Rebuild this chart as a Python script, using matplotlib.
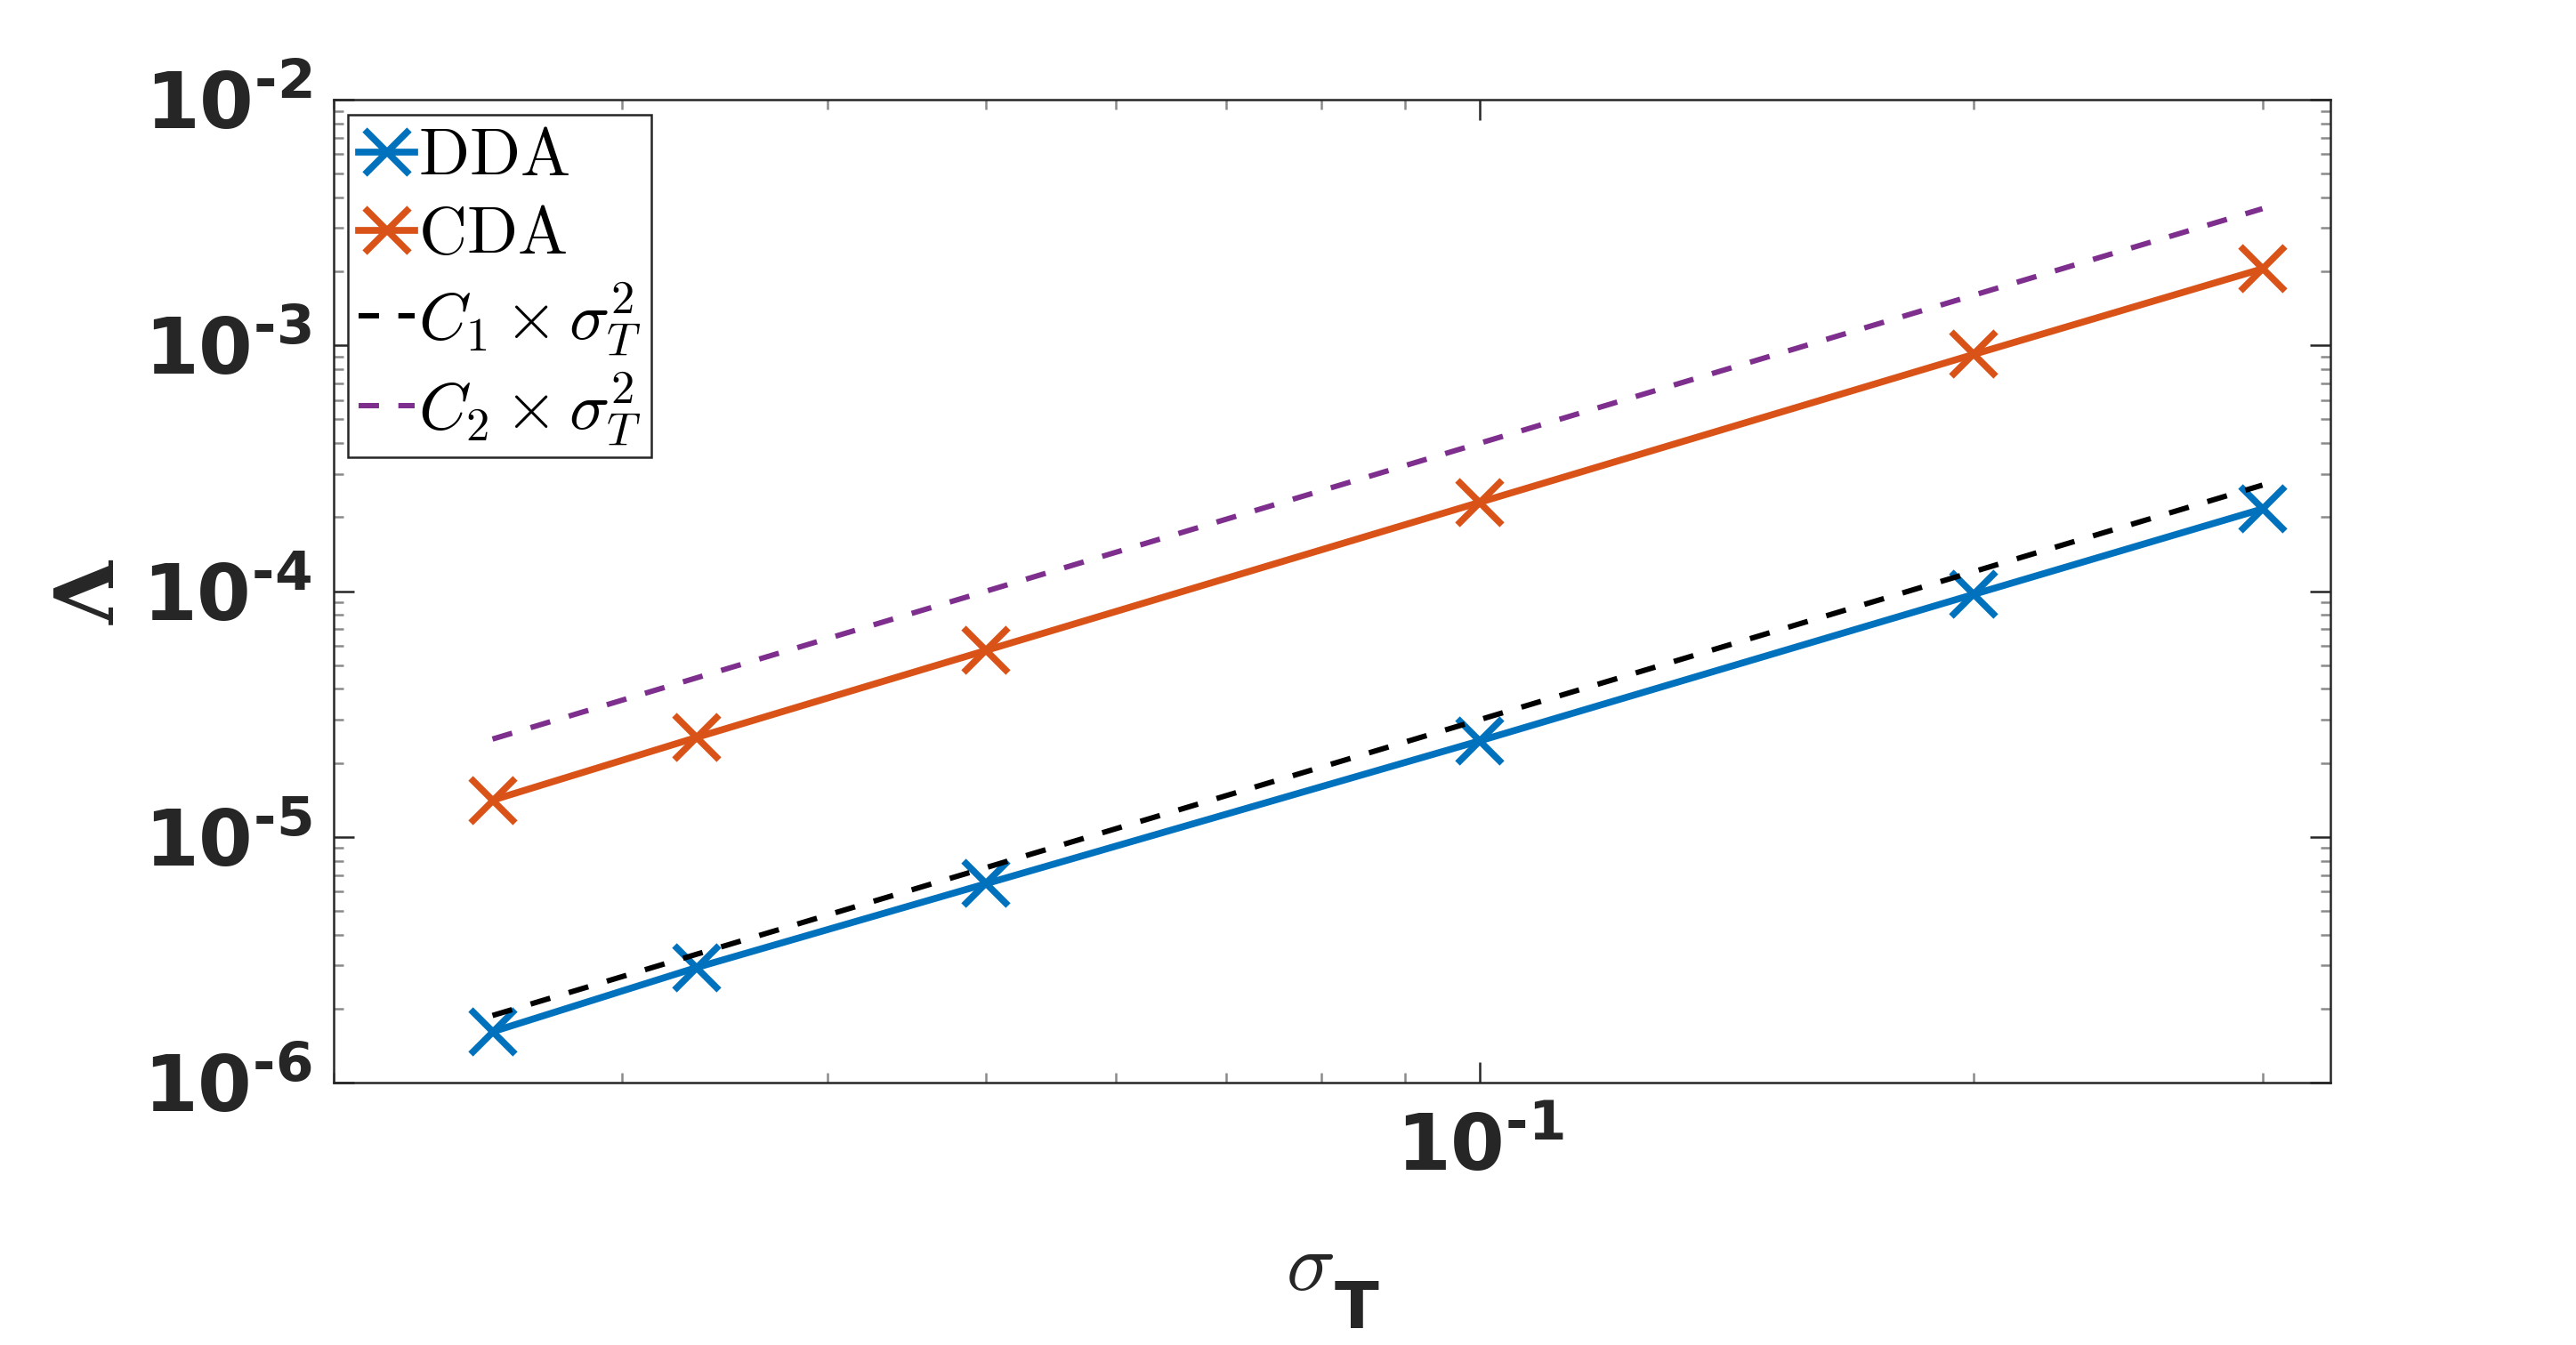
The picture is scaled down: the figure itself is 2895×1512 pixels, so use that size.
import matplotlib
matplotlib.use("Agg")
import matplotlib.pyplot as plt
from matplotlib.ticker import LogLocator, NullFormatter

# sigma_T values (x) and Lambda values (y)
sigma_t = [0.025, 0.0333, 0.05, 0.1, 0.2, 0.3]
dda = [1.61e-6, 2.94e-6, 6.45e-6, 2.46e-5, 9.7e-5, 2.16e-4]
cda = [1.41e-5, 2.54e-5, 5.74e-5, 2.30e-4, 9.19e-4, 2.05e-3]
c1_line = [1.875e-6, 3.33e-6, 7.5e-6, 3.0e-5, 1.2e-4, 2.7e-4]
c2_line = [2.5e-5, 4.44e-5, 1.0e-4, 4.0e-4, 1.6e-3, 3.6e-3]

labels = [r'$\mathrm{DDA}$', r'$\mathrm{CDA}$',
          r'$C_1\times\sigma_T^2$', r'$C_2\times\sigma_T^2$']
yticks = [1e-6, 1e-5, 1e-4, 1e-3, 1e-2]
ytick_labels = [r'$\mathrm{10^{\text{-}6}}$', r'$\mathrm{10^{\text{-}5}}$',
                r'$\mathrm{10^{\text{-}4}}$', r'$\mathrm{10^{\text{-}3}}$',
                r'$\mathrm{10^{\text{-}2}}$']
xticks = [1e-1]
xtick_labels = [r'$\mathrm{10^{\text{-}1}}$']

blue = '#0072BD'
orange = '#D95319'
purple = '#7E2F8E'
dark = '#262626'

plt.rcParams['mathtext.fontset'] = 'custom'
plt.rcParams['mathtext.rm'] = 'DejaVu Sans:bold'
plt.rcParams['mathtext.bf'] = 'DejaVu Sans:bold'

fig = plt.figure(figsize=(9.65, 5.04), dpi=300)
ax = fig.add_axes([0.1295, 0.1951, 0.7751, 0.7308])

ax.plot(sigma_t, dda, '-x', color=blue, lw=1.85, ms=12, mew=1.8, label=labels[0])
ax.plot(sigma_t, cda, '-x', color=orange, lw=1.85, ms=12, mew=1.8, label=labels[1])
ax.plot(sigma_t, c1_line, '--', color='black', lw=1.45, dashes=(3.8, 3.6), label=labels[2])
ax.plot(sigma_t, c2_line, '--', color=purple, lw=1.45, dashes=(3.8, 3.6), label=labels[3])

ax.set_xscale('log')
ax.set_yscale('log')
ax.set_xlim(0.02, 0.33)
ax.set_ylim(1e-6, 1e-2)

ax.set_yticks(yticks)
ax.set_yticklabels(ytick_labels)
ax.set_xticks(xticks)
ax.set_xticklabels(xtick_labels)
ax.xaxis.set_minor_locator(LogLocator(subs=range(2, 10)))
ax.yaxis.set_minor_locator(LogLocator(subs=range(2, 10)))
ax.xaxis.set_minor_formatter(NullFormatter())
ax.yaxis.set_minor_formatter(NullFormatter())

ax.tick_params(which='both', direction='in', top=True, right=True)
ax.tick_params(which='major', length=5.6, width=0.6, color=dark, labelcolor=dark,
               labelsize=21)
ax.tick_params(axis='y', which='major', pad=6)
ax.tick_params(axis='x', which='major', pad=8)
ax.tick_params(which='minor', length=2.7, width=0.6, color='#8a8a8a')
for s in ax.spines.values():
    s.set_color(dark)
    s.set_linewidth(0.6)

leg = ax.legend(loc='upper left', fontsize=18, handlelength=0.85,
                handletextpad=0.05, labelspacing=0.2, borderpad=0.15,
                borderaxespad=0.22, fancybox=False, framealpha=1)
leg.get_frame().set_edgecolor(dark)
leg.get_frame().set_linewidth(0.6)
for t in leg.get_texts():
    t.set_math_fontfamily('cm')

# axis labels
fig.text(0.0356, 0.5595, 'Λ', family='DejaVu Serif', fontweight='bold',
         fontsize=22, rotation=90, ha='center', va='center', color=dark)
fig.text(1472 / 2895, 0.041, r'$\sigma$', fontsize=22, ha='center',
         va='baseline', color=dark, math_fontfamily='cm')
fig.text(1525 / 2895, 0.0126, 'T', fontsize=17.5, fontweight='bold',
         ha='center', va='baseline', color=dark)

fig.savefig('out.png', dpi=300)
